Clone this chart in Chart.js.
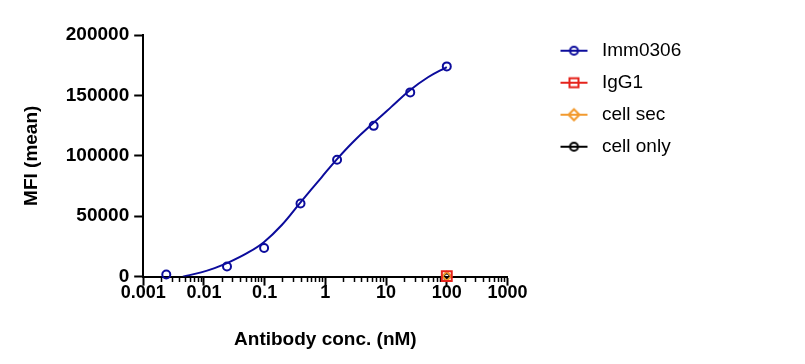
<!DOCTYPE html>
<html>
<head>
<meta charset="utf-8">
<title>MFI x concentração</title>
<script src="https://cdn.jsdelivr.net/npm/chart.js@4.4.0/dist/chart.umd.min.js"></script>
<style>
    html, body { margin: 0; padding: 0; background: #fff; }
    #caixa { width: 805px; height: 364px; }
</style>
</head>
<body>
<div id="caixa"><canvas id="grafico"></canvas></div>
<script>
// Imm0306 - pontos medidos (nM / MFI)
var concImm = [0.0024, 0.024, 0.098, 0.39, 1.56, 6.25, 25, 100];
var mfiImm = [1800, 8300, 23700, 60500, 96700, 124800, 152500, 174000];

// curva ajustada
var concCurva = [0.0045, 0.009, 0.015, 0.025, 0.053, 0.097, 0.19, 0.39, 0.86, 1.57, 3.0, 6.3, 12.2, 24.4, 49, 100];
var mfiCurva = [0, 3500, 7000, 11500, 19800, 28500, 42500, 61500, 82000, 97500, 112500, 127500, 140500, 154000, 165000, 173500];

// controles, so em 100 nM
var concControle = [100];
var mfiIgG1 = [400];
var mfiCellSec = [300];
var mfiCellOnly = [200];

var nomesSeries = ['Imm0306', 'IgG1', 'cell sec', 'cell only'];
var coresSeries = ['#0c0c9c', '#e5231b', '#f29a2e', '#000000'];
var simbolos = ['circle', 'rect', 'rectRot', 'circle'];

var xTickLabels = ['0.001', '0.01', '0.1', '1', '10', '100', '1000'];
var yTicks = [0, 50000, 100000, 150000, 200000];

var fonte = "'Liberation Sans', Arial, sans-serif";

function pontos(xs, ys) {
    var lista = [];
    for (var i = 0; i < xs.length; i++) {
        lista.push({ x: xs[i], y: ys[i] });
    }
    return lista;
}

function ehPotencia10(v) {
    var e = Math.log10(v);
    return Math.abs(e - Math.round(e)) < 1e-6;
}

// ticks 1..9 de cada decada
function ticksLog() {
    var lista = [];
    for (var i = 0; i < xTickLabels.length; i++) {
        var base = Number(xTickLabels[i]);
        if (i == xTickLabels.length - 1) {
            lista.push({ value: base });
            break;
        }
        for (var k = 1; k <= 9; k++) {
            lista.push({ value: Number((base * k).toPrecision(6)) });
        }
    }
    return lista;
}

// icone da legenda: linha curta com o simbolo no meio
function iconeLegenda(cor, estilo) {
    var c = document.createElement('canvas');
    c.width = 72;
    c.height = 20;
    var g = c.getContext('2d');
    g.strokeStyle = cor;
    g.lineWidth = 2;
    g.beginPath();
    g.moveTo(40, 10);
    g.lineTo(67, 10);
    g.stroke();
    g.beginPath();
    if (estilo == 'circle') {
        g.arc(53.5, 10, 4, 0, Math.PI * 2);
    } else if (estilo == 'rect') {
        g.rect(49, 5.5, 9, 9);
    } else {
        g.moveTo(53.5, 4.5);
        g.lineTo(59, 10);
        g.lineTo(53.5, 15.5);
        g.lineTo(48, 10);
        g.closePath();
    }
    g.stroke();
    return c;
}

// legenda: sobe um pouco e nao corta o texto
var ajusteLegenda = {
    id: 'ajusteLegenda',
    afterLayout: function (chart) {
        var leg = chart.legend;
        if (!leg) return;
        leg.top -= 12;
        leg.bottom -= 12;
        leg.right += 30;
        leg.width += 30;
    }
};

var dados = {
    datasets: [
        {
            label: 'curva',
            data: pontos(concCurva, mfiCurva),
            showLine: true,
            borderColor: coresSeries[0],
            borderWidth: 2,
            pointRadius: 0,
            tension: 0.4,
            fill: false
        },
        {
            label: nomesSeries[0],
            data: pontos(concImm, mfiImm),
            showLine: false,
            pointStyle: simbolos[0],
            pointRadius: 4,
            borderWidth: 2,
            borderColor: coresSeries[0],
            backgroundColor: 'rgba(255,255,255,0)',
            clip: false
        },
        {
            label: nomesSeries[1],
            data: pontos(concControle, mfiIgG1),
            showLine: false,
            pointStyle: simbolos[1],
            pointRadius: 7,
            borderWidth: 2,
            borderColor: coresSeries[1],
            backgroundColor: 'rgba(255,255,255,0)',
            clip: false
        },
        {
            label: nomesSeries[2],
            data: pontos(concControle, mfiCellSec),
            showLine: false,
            pointStyle: simbolos[2],
            pointRadius: 4.5,
            borderWidth: 2,
            borderColor: coresSeries[2],
            backgroundColor: 'rgba(255,255,255,0)',
            clip: false
        },
        {
            label: nomesSeries[3],
            data: pontos(concControle, mfiCellOnly),
            showLine: false,
            pointStyle: simbolos[3],
            pointRadius: 2.5,
            borderWidth: 1.5,
            borderColor: coresSeries[3],
            backgroundColor: 'rgba(255,255,255,0)',
            clip: false
        }
    ]
};

const config = {
    type: 'scatter',
    data: dados,
    options: {
        responsive: true,
        maintainAspectRatio: false,
        animation: false,
        layout: {
            padding: { left: 8, top: 35, right: 131, bottom: 13 }
        },
        scales: {
            x: {
                type: 'logarithmic',
                position: 'bottom',
                min: 0.001,
                max: 1000,
                afterBuildTicks: function (scale) {
                    scale.ticks = ticksLog();
                },
                border: { display: true, color: '#000', width: 2 },
                grid: {
                    drawOnChartArea: false,
                    tickLength: 9,
                    tickWidth: 2,
                    tickColor: function (ctx) {
                        return ctx.tick && ehPotencia10(ctx.tick.value) ? '#000' : 'rgba(0,0,0,0)';
                    }
                },
                ticks: {
                    autoSkip: false,
                    maxRotation: 0,
                    padding: -3,
                    color: '#000',
                    font: { family: fonte, size: 18, weight: 'bold' },
                    callback: function (value) {
                        for (var i = 0; i < xTickLabels.length; i++) {
                            if (Math.abs(Number(xTickLabels[i]) - value) < value * 1e-6) {
                                return xTickLabels[i];
                            }
                        }
                        return '';
                    }
                },
                title: {
                    display: true,
                    text: 'Antibody conc. (nM)',
                    color: '#000',
                    font: { family: fonte, size: 19, weight: 'bold' },
                    padding: { top: 27, bottom: 0 }
                }
            },
            xMenor: {
                axis: 'x',
                type: 'logarithmic',
                position: { y: 0 },
                min: 0.001,
                max: 1000,
                afterBuildTicks: function (scale) {
                    scale.ticks = ticksLog();
                },
                border: { display: false },
                grid: {
                    drawOnChartArea: false,
                    tickLength: 5,
                    tickWidth: 1.5,
                    tickColor: function (ctx) {
                        return ctx.tick && !ehPotencia10(ctx.tick.value) ? '#000' : 'rgba(0,0,0,0)';
                    }
                },
                ticks: { display: false, autoSkip: false }
            },
            y: {
                type: 'linear',
                min: 0,
                max: 200000,
                afterBuildTicks: function (scale) {
                    scale.ticks = yTicks.map(function (v) { return { value: v }; });
                },
                border: { display: true, color: '#000', width: 2 },
                grid: {
                    drawOnChartArea: false,
                    tickLength: 9,
                    tickWidth: 2,
                    tickColor: '#000'
                },
                ticks: {
                    padding: 5,
                    color: '#000',
                    font: { family: fonte, size: 19, weight: 'bold' },
                    callback: function (value) {
                        return String(value);
                    }
                },
                title: {
                    display: true,
                    text: 'MFI (mean)',
                    color: '#000',
                    font: { family: fonte, size: 19, weight: 'bold' },
                    padding: { top: 12, bottom: 18 }
                }
            }
        },
        plugins: {
            tooltip: { enabled: false },
            legend: {
                position: 'right',
                align: 'start',
                title: { display: true, text: ' ', font: { size: 1 }, padding: 2 },
                labels: {
                    usePointStyle: true,
                    pointStyleWidth: 72,
                    padding: 13,
                    color: '#000',
                    font: { family: fonte, size: 19 },
                    generateLabels: function () {
                        var itens = [];
                        for (var i = 0; i < nomesSeries.length; i++) {
                            itens.push({
                                text: nomesSeries[i],
                                pointStyle: iconeLegenda(coresSeries[i], simbolos[i]),
                                fillStyle: 'rgba(0,0,0,0)',
                                strokeStyle: 'rgba(0,0,0,0)',
                                lineWidth: 0,
                                fontColor: '#000',
                                hidden: false,
                                datasetIndex: i + 1
                            });
                        }
                        return itens;
                    }
                }
            }
        }
    },
    plugins: [ajusteLegenda]
};

var meuGrafico = new Chart(document.getElementById('grafico'), config);
console.log('area do grafico:', meuGrafico.chartArea);
</script>
</body>
</html>
